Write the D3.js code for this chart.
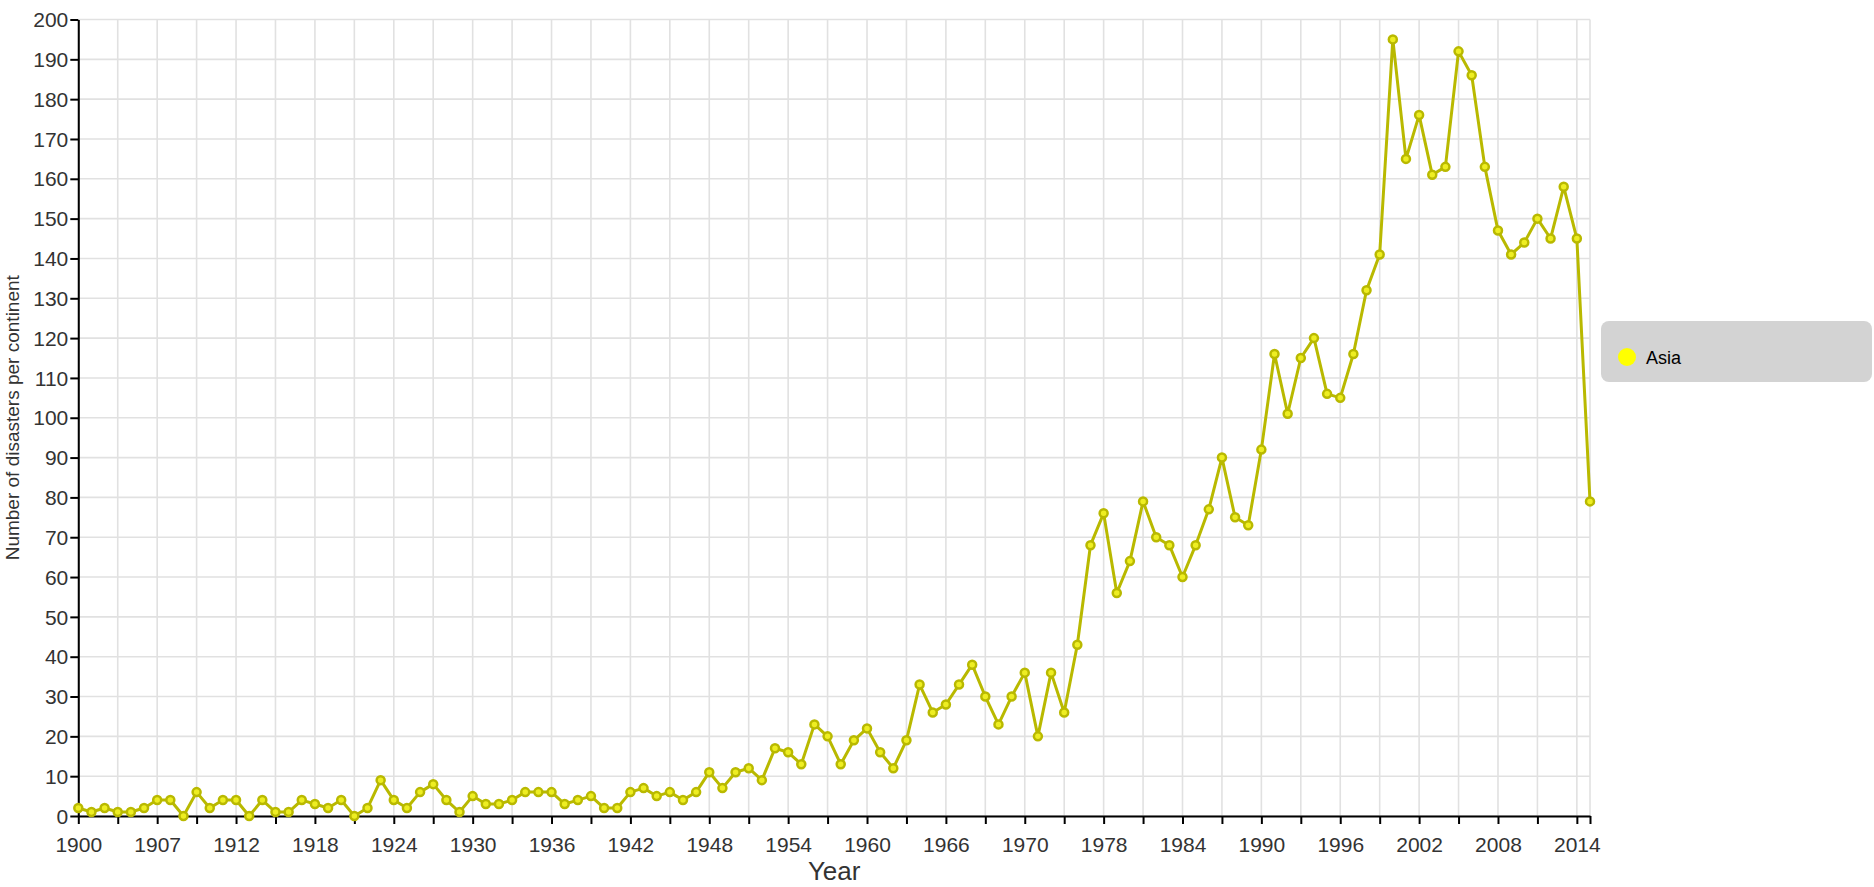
<!DOCTYPE html>
<html>
<head>
<meta charset="utf-8">
<script src="https://cdn.jsdelivr.net/npm/d3@7"></script>
<style>
  body { margin: 0; background: #fff; }
  svg { display: block; font-family: "Liberation Sans", Arial, sans-serif; }
</style>
</head>
<body>
<div id="chart"></div>
<script>
const years = [
  1900, 1901, 1902, 1903, 1904, 1905, 1906, 1907, 1908, 1909,
  1910, 1911, 1912, 1913, 1914, 1915, 1916, 1917, 1918, 1919,
  1920, 1921, 1922, 1923, 1924, 1925, 1926, 1927, 1928, 1929,
  1930, 1931, 1932, 1933, 1934, 1935, 1936, 1937, 1938, 1939,
  1940, 1941, 1942, 1943, 1944, 1945, 1946, 1947, 1948, 1949,
  1950, 1951, 1952, 1953, 1954, 1955, 1956, 1957, 1958, 1959,
  1960, 1961, 1962, 1963, 1964, 1965, 1966, 1967, 1968, 1969,
  1970, 1971, 1972, 1973, 1974, 1975, 1976, 1977, 1978, 1979,
  1980, 1981, 1982, 1983, 1984, 1985, 1986, 1987, 1988, 1989,
  1990, 1991, 1992, 1993, 1994, 1995, 1996, 1997, 1998, 1999,
  2000, 2001, 2002, 2003, 2004, 2005, 2006, 2007, 2008, 2009,
  2010, 2011, 2012, 2013, 2014, 2015
];

const asia = [
  2, 1, 2, 1, 1, 2, 4, 4, 0, 6,
  2, 4, 4, 0, 4, 1, 1, 4, 3, 2,
  4, 0, 2, 9, 4, 2, 6, 8, 4, 1,
  5, 3, 3, 4, 6, 6, 6, 3, 4, 5,
  2, 2, 6, 7, 5, 6, 4, 6, 11, 7,
  11, 12, 9, 17, 16, 13, 23, 20, 13, 19,
  22, 16, 12, 19, 33, 26, 28, 33, 38, 30,
  23, 30, 36, 20, 36, 26, 43, 68, 76, 56,
  64, 79, 70, 68, 60, 68, 77, 90, 75, 73,
  92, 116, 101, 115, 120, 106, 105, 116, 132, 141,
  195, 165, 176, 161, 163, 192, 186, 163, 147, 141,
  144, 150, 145, 158, 145, 79
];

// labels as printed under the axis (every second tick)
const xLabelYears = [1900, 1906, 1912, 1918, 1924, 1930, 1936, 1942, 1948, 1954,
  1960, 1966, 1972, 1978, 1984, 1990, 1996, 2002, 2008, 2014];
const xLabels = ["1900", "1907", "1912", "1918", "1924", "1930", "1936", "1942", "1948", "1954",
  "1960", "1966", "1970", "1978", "1984", "1990", "1996", "2002", "2008", "2014"];

const seriesName = "Asia";

const width = 1874;
const height = 887;
const margin = { left: 78.3, right: 1590, top: 19.5, bottom: 816 };

const svg = d3.select("#chart")
  .append("svg")
  .attr("width", width)
  .attr("height", height);

const x = d3.scaleLinear().domain([1900, 2015]).range([margin.left, margin.right]);
const y = d3.scaleLinear().domain([0, 200]).range([margin.bottom, margin.top]);

const tickYears = d3.range(1900, 2015, 3).concat([2015]);
const labelByYear = new Map(xLabelYears.map((yr, i) => [yr, xLabels[i]]));

// grid
const grid = svg.append("g").attr("class", "grid");
grid.selectAll("line.v")
  .data(tickYears)
  .join("line")
  .attr("class", "v")
  .attr("x1", (d) => x(d)).attr("x2", (d) => x(d))
  .attr("y1", margin.top).attr("y2", margin.bottom)
  .attr("stroke", "#e1e1e1")
  .attr("stroke-width", 1.6);
grid.selectAll("line.h")
  .data(y.ticks(20))
  .join("line")
  .attr("class", "h")
  .attr("x1", margin.left).attr("x2", margin.right)
  .attr("y1", (d) => y(d)).attr("y2", (d) => y(d))
  .attr("stroke", "#e1e1e1")
  .attr("stroke-width", 1.6);

// axes
const xAxis = svg.append("g")
  .attr("transform", `translate(0,${margin.bottom})`)
  .call(d3.axisBottom(x)
    .tickValues(tickYears)
    .tickSize(8)
    .tickSizeOuter(0)
    .tickFormat((d) => labelByYear.get(d) || ""));

const yAxis = svg.append("g")
  .attr("transform", `translate(${margin.left},0)`)
  .call(d3.axisLeft(y).ticks(20).tickSize(8).tickSizeOuter(0));

[xAxis, yAxis].forEach((ax) => {
  ax.select(".domain").attr("stroke", "#000").attr("stroke-width", 2);
  ax.selectAll(".tick line").attr("stroke", "#000").attr("stroke-width", 2);
  ax.selectAll(".tick text")
    .attr("fill", "#333")
    .style("font-size", "21px")
    .style("font-family", "'Liberation Sans', Arial, sans-serif");
});
xAxis.selectAll(".tick text").attr("dy", "1.2em");
yAxis.selectAll(".tick text").attr("x", -10).attr("dy", "0.34em");

// axis titles
svg.append("text")
  .attr("x", (margin.left + margin.right) / 2)
  .attr("y", 880)
  .attr("text-anchor", "middle")
  .attr("fill", "#333")
  .style("font-size", "26px")
  .text("Year");

svg.append("text")
  .attr("transform", `translate(19,${(margin.top + margin.bottom) / 2}) rotate(-90)`)
  .attr("text-anchor", "middle")
  .attr("fill", "#333")
  .style("font-size", "19px")
  .text("Number of disasters per continent");

// series
const data = years.map((yr, i) => ({ year: yr, value: asia[i] }));

const line = d3.line()
  .x((d) => x(d.year))
  .y((d) => y(d.value));

svg.append("path")
  .datum(data)
  .attr("d", line)
  .attr("fill", "none")
  .attr("stroke", "#b9b900")
  .attr("stroke-width", 3)
  .attr("stroke-linejoin", "round");

svg.selectAll("circle.pt")
  .data(data)
  .join("circle")
  .attr("class", "pt")
  .attr("cx", (d) => x(d.year))
  .attr("cy", (d) => y(d.value))
  .attr("r", 4)
  .attr("fill", "#eeee22")
  .attr("stroke", "#b9b900")
  .attr("stroke-width", 2.5);

// legend
const legend = svg.append("g");
legend.append("rect")
  .attr("x", 1601).attr("y", 321)
  .attr("width", 271).attr("height", 61)
  .attr("rx", 8)
  .attr("fill", "#d3d3d3");
legend.append("circle")
  .attr("cx", 1627).attr("cy", 357)
  .attr("r", 9)
  .attr("fill", "#ffff00");
legend.append("text")
  .attr("x", 1646).attr("y", 363.5)
  .attr("fill", "#000")
  .style("font-size", "18px")
  .text(seriesName);
</script>
</body>
</html>
